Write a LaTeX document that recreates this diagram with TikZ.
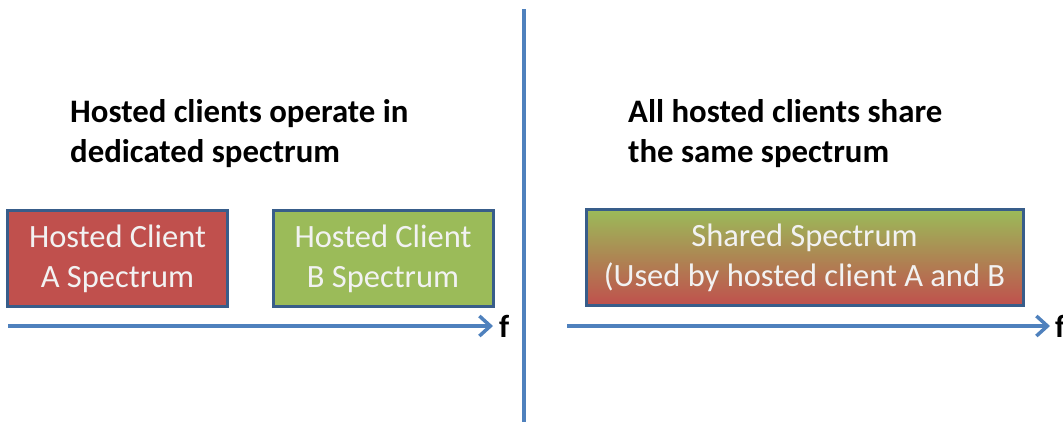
\documentclass[tikz,border=0pt]{standalone}
\usepackage{fontspec}
\setmainfont{Carlito}
\usepackage{xcolor}
\usetikzlibrary{positioning,arrows.meta,shapes}
\definecolor{specred}{HTML}{C0504D}
\definecolor{specgreen}{HTML}{9BBB59}
\definecolor{axisblue}{HTML}{4F81BD}
\definecolor{edgeblue}{HTML}{385D8A}
\tikzset{
  >={Straight Barb[length=11pt,width=20pt]},
  specbox/.style={
    rectangle,
    draw=edgeblue, line width=3pt,
    minimum width=220pt,
    minimum height=96pt,
    text=white!95!black,
    align=center,
    font=\fontsize{32.5}{40}\selectfont},
  title/.style={
    anchor=north west,
    inner sep=0pt,
    align=left,
    font=\fontsize{32.8}{40}\selectfont\bfseries},
  axis/.style={draw=axisblue, line width=3.5pt, ->},
  freq/.style={inner sep=0pt, font=\fontsize{32}{40}\selectfont\bfseries}
}
\begin{document}
\begin{tikzpicture}[x=1pt,y=-1pt]
    \useasboundingbox (0,0) rectangle (1063,426);

    % divider
    \coordinate (divtop) at (524,9);
    \coordinate (divbot) at (524,422);
    \draw[axisblue, line width=4pt] (divtop) -- (divbot);

    % left side: dedicated spectrum
    \node[title] (titleL) at (70,99) {Hosted clients operate in\\dedicated spectrum};
    \node[specbox, fill=specred] (boxA) at (117.5,258.5) {Hosted Client\\A Spectrum};
    \node[specbox, fill=specgreen] (boxB) at (383,258.5) {Hosted Client\\B Spectrum};
    \coordinate (axL1) at (8,326);
    \coordinate (axL2) at (493,326);
    \draw[axis] (axL1) -- (axL2);
    \node[freq, right=6pt of axL2] (fL) {f};

    % right side: shared spectrum
    \node[title] (titleR) at (628,99) {All hosted clients share\\the same spectrum};
    \node[specbox, minimum width=437pt, top color=specgreen, bottom color=specred]
        (shared) at (804.5,257.5) {Shared Spectrum\\(Used by hosted client A and B};
    \coordinate (axR1) at (567,326);
    \coordinate (axR2) at (1050,326);
    \draw[axis] (axR1) -- (axR2);
    \node[freq, right=5pt of axR2] (fR) {f};
\end{tikzpicture}
\end{document}
